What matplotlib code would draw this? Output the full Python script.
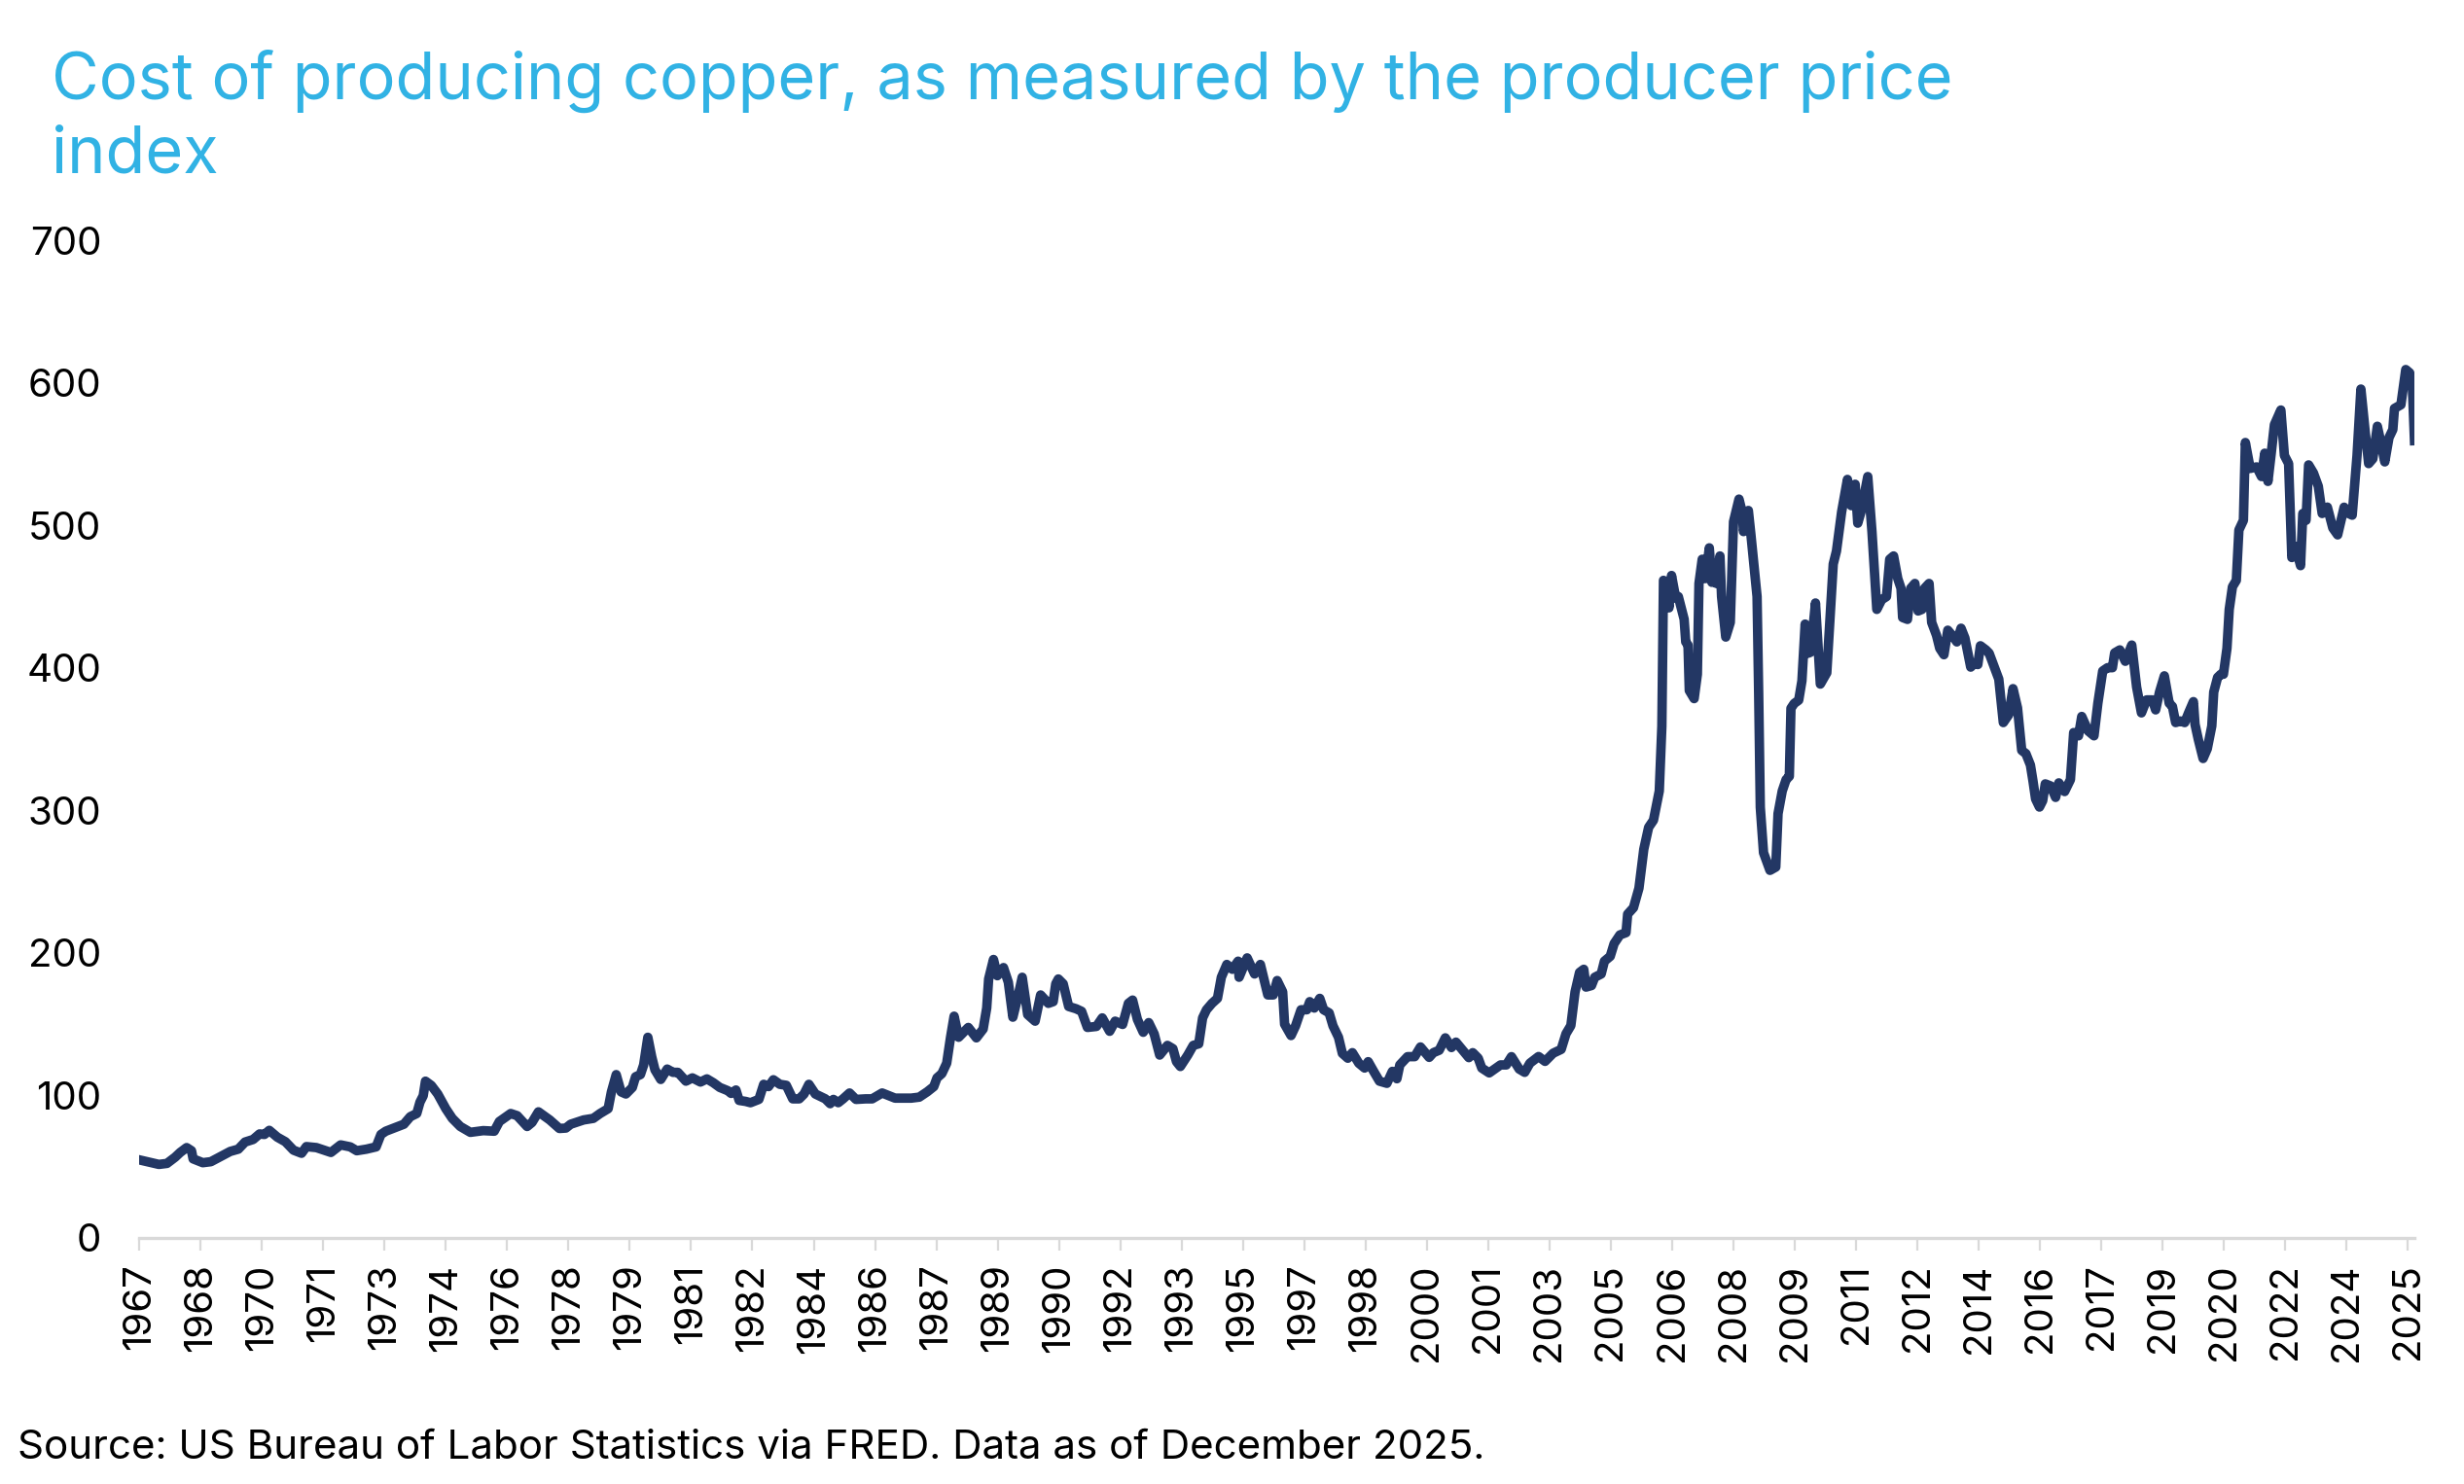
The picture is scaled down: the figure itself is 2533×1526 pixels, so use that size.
import matplotlib
matplotlib.use("Agg")
import matplotlib.pyplot as plt

# months after Jan 1967
months = [
    0, 6.1, 8.6, 11.1, 12.7, 14.7, 16.2, 16.7, 19.7, 22.2, 25.2, 28.2, 30.7, 32.8, 35.3, 37.3, 38.8,
    40.3, 42.8, 45.3, 47.8, 50.3, 51.8, 54.9, 59.4, 62.4, 65.4, 67.4, 70.4, 73.4, 74.9, 76.4, 79.5,
    82.0, 84.0, 86.0, 87.0, 88.0, 88.7, 90.5, 92.5, 95.0, 97.0, 99.5, 102.6, 106.6, 110.0, 111.6,
    115.1, 117.1, 120.2, 121.7, 123.7, 127.2, 130.2, 132.2, 133.7, 137.7, 140.7, 142.8,
    145.3, 146.3, 147.8, 149.3, 150.8, 152.8, 153.8, 155.3, 156.3, 157.6, 158.8, 159.8, 161.6,
    163.6, 165.4, 166.9, 169.4, 171.4, 173.9, 175.9, 177.9, 179.9, 182.4, 183.4, 184.9, 185.9,
    187.9, 189.4, 192.0, 193.5, 195.0, 196.5, 198.5, 200.5, 202.5, 204.5, 206.0, 207.5, 209.5,
    212.6, 214.1, 215.1, 216.6, 218.1, 220.1, 222.1, 225.1, 227.1, 230.2, 234.2, 239.2, 241.7,
    244.2, 246.2, 247.2, 248.7, 250.2, 251.4, 252.5,
    253.9, 256.9, 259.4, 261.5, 262.6, 263.2, 264.7, 265.9, 267.8, 269.3, 270.7, 272.4, 273.6,
    275.3, 277.6, 279.3, 281.7, 283.2, 284.0, 284.8, 286.3, 288.0, 290.3, 292.0, 293.8, 296.6,
    298.4, 300.7, 302.4, 304.7, 306.5, 307.8, 309.3, 311.1, 312.8, 314.5, 316.2, 318.6, 320.3,
    321.4, 322.6, 324.9, 326.6, 328.3, 329.5, 330.7, 332.4, 334.1, 335.3, 337.0, 338.7, 340.5,
    340.8, 343.3, 345.6, 347.4, 349.7, 351.4, 352.6, 354.3, 354.9, 356.9, 358.3, 360.0, 361.8,
    362.7, 364.1, 365.8, 367.0, 368.7, 369.9, 371.6, 372.8, 374.5, 375.9, 377.9, 379.7, 380.8,
    382.5, 384.3, 386.6, 388.3, 389.7, 390.6, 393.0, 395.2, 397.0, 399.7, 401.0, 402.8, 404.7,
    406.6, 408.0, 412.0, 413.2, 414.9, 416.0, 418.3, 421.8, 423.6, 425.2, 427.6, 429.3, 430.9,
    433.6, 435.6, 438.1, 440.6, 442.1, 443.6, 444.9, 446.3, 447.6, 448.3, 450.0, 451.0, 453.0,
    454.0, 455.8, 457.0, 458.8, 460.7, 461.2, 463.0, 464.7, 466.2, 467.7,
    469.2, 471.0, 471.8, 472.3, 472.8, 474.0, 474.8, 476.1, 476.9, 478.7, 479.2, 479.9, 480.3,
    481.8, 482.8, 483.3, 484.3, 485.3, 486.5, 487.3, 488.3, 488.7, 489.8, 490.3, 491.6, 493.0,
    494.0, 495.7, 496.7, 497.1, 498.6, 499.4, 501.3, 501.8, 502.3, 503.3, 505.3, 507.1, 507.8,
    509.1, 510.3, 511.3, 511.8, 512.8, 514.2, 515.2, 516.2, 517.2, 517.9, 519.4, 520.9, 522.9,
    523.9, 524.9, 525.9, 527.5, 529.3, 530.5, 531.7, 532.5, 533.5, 535.6, 536.9, 538.4, 539.9,
    541.4, 542.4, 543.6, 544.9, 545.9, 546.4, 547.9, 548.9, 550.2, 551.2, 552.4, 553.2, 554.6,
    555.4, 556.9, 557.9, 559.2, 560.4,
    562.2, 563.2, 564.5, 565.7, 567.5, 568.7, 569.7, 570.5, 572.2, 573.2, 574.7, 576.2, 577.6,
    579.3, 580.6, 582.0, 583.3, 584.6, 586.0, 586.8, 587.6, 588.8, 589.8, 590.6, 592.3, 593.8,
    594.8, 596.6, 598.4, 599.4, 600.9, 601.9, 603.9, 605.7, 606.9, 608.4, 609.9, 611.4, 612.1,
    613.7, 615.4, 617.4, 618.9, 620.4, 622.0, 623.8, 624.8, 626.0, 627.5, 629.0, 630.0, 631.0,
    632.5, 633.8, 635.0, 636.5, 637.0, 638.0, 639.5, 640.8, 642.2, 642.8, 644.0, 645.0, 645.8,
    646.9, 647.6, 648.6, 649.8, 650.6, 652.0, 652.6, 654.1, 656.1, 657.6, 658.6, 659.6, 660.6,
    661.6, 663.6, 664.7, 666.0, 667.0, 668.1, 669.7, 670.4, 671.4, 672.2, 673.7, 675.2, 676.4,
    678.0, 679.7, 681.2, 683.2, 684.7, 685.7, 687.2, 688.4, 689.7, 690.8, 692.1, 693.5, 694.8,
    695.8, 697.1, 698.3, 698.8, 700.8, 702.3, 703.5, 704.3, 705.0,
]

ppi = [
    54.8, 51.6, 52.3, 56.6, 60.0, 63.4, 61.2, 55.5, 52.8, 53.5, 57.1, 60.7, 62.3, 67.3, 69.1, 73.0, 72.6,
    75.5, 70.7, 67.5, 61.6, 59.4, 64.1, 63.4, 60.0, 65.3, 63.9, 61.2, 62.3, 63.9, 72.6, 74.9, 77.6,
    79.8, 85.1, 87.3, 95.3, 99.8, 110.0, 107.0, 101.0, 90.7, 83.9, 78.2, 74.1, 75.3, 74.9, 81.7,
    87.3, 85.8, 78.2, 81.0, 88.5, 82.8, 76.8, 77.1, 79.8, 82.8, 83.9, 87.3,
    90.7, 102.4, 114.6, 102.5, 101.0, 105.6, 113.1, 114.6, 121.4, 140.8, 127.1, 118.0, 111.2,
    118.5, 116.2, 116.2, 110.0, 112.3, 109.4, 111.6, 108.9, 105.6, 103.3, 101.4, 103.8, 96.5,
    95.8, 94.9, 97.2, 107.8, 106.2, 111.0, 107.8, 107.1, 97.6, 97.6, 101.0, 107.8, 101.0,
    97.6, 94.2, 97.2, 94.9, 97.6, 101.7, 97.2, 97.6, 97.6, 101.7, 98.1, 98.1, 98.8,
    102.6, 106.2, 112.3, 115.3, 122.6, 140.8, 155.6,
    140.8, 147.7, 140.4, 146.6, 161.3, 181.7, 195.4, 184.0, 189.7, 179.4, 154.9, 170.5, 182.9,
    156.7, 152.1, 170.5, 164.6, 165.8, 178.3, 181.7, 178.3, 162.4, 160.8, 159.0, 147.7, 148.4,
    154.4, 145.0, 152.1, 149.8, 164.6, 166.9, 153.3, 144.3, 151.1, 143.1, 128.3, 135.1, 132.8,
    123.7, 120.3, 128.3, 135.1, 136.2, 154.4, 160.1, 164.6, 168.1, 182.9, 191.9, 188.5, 194.2,
    182.9, 196.5, 185.2, 191.9, 170.5, 170.5, 180.6, 172.7, 150.0, 142.0, 148.8, 160.1, 160.1,
    165.8, 161.3, 168.1, 160.1, 157.9, 148.8, 140.8, 129.5, 126.1, 130.0, 122.6, 119.2, 123.7,
    116.9, 110.0, 108.5, 116.9, 111.7, 121.4, 127.2, 127.2, 134.0, 126.7, 130.0, 131.7, 140.4,
    133.6, 137.4, 126.5, 130.0, 126.1, 119.2, 115.8, 121.4, 121.4, 127.2, 118.5, 116.2, 122.6,
    127.3, 123.9, 129.6, 132.3, 143.3, 149.0, 172.6, 186.3, 188.5, 176.0, 177.1, 182.9, 185.2,
    194.2, 197.6, 206.5, 212.6, 214.2, 227.2, 231.7, 245.4, 272.7, 288.1,
    293.1, 313.6, 359.0, 461.4, 460.0, 442.1, 464.8, 448.9, 450.0, 434.1, 418.2, 416.0, 384.1,
    378.4, 395.5, 459.2, 476.2, 462.6, 484.2, 460.0, 472.8, 459.2, 478.5, 450.0, 421.6, 431.9,
    502.5, 518.4, 509.2, 495.6, 510.4, 493.3, 450.0, 381.8, 302.2, 270.3, 257.9, 260.2, 297.7,
    313.6, 321.6, 323.9, 371.6, 375.0, 377.3, 390.9, 430.7, 410.3, 411.0, 445.5, 388.6, 396.5,
    434.1, 472.8, 481.9, 509.4, 532.2, 513.8, 528.8, 501.5, 509.4, 534.2, 495.6, 441.0, 447.8,
    450.0, 476.2, 478.5, 462.6, 455.8, 435.3, 434.0, 455.8, 459.2, 439.9, 441.0, 455.8, 459.2,
    431.9, 422.8, 413.7, 409.2, 426.4,
    421.6, 418.2, 427.8, 420.9, 400.5, 403.4, 402.3, 415.5, 412.6, 410.3, 401.2, 392.1, 361.6,
    367.2, 385.4, 371.9, 342.1, 339.8, 331.8, 320.5, 308.0, 302.3, 306.8, 318.6, 317.1, 309.1,
    319.3, 313.2, 321.6, 354.6, 352.3, 365.9, 355.7, 352.3, 375.2, 397.8, 400.1, 400.1, 410.5,
    412.6, 404.6, 416.0, 386.6, 368.4, 377.5, 377.5, 370.5, 383.0, 394.4, 375.2, 372.9, 361.6,
    362.7, 361.6, 368.4, 376.3, 360.4, 350.0, 336.4, 343.2, 359.2, 383.0, 393.3, 395.5, 395.5,
    413.7, 441.0, 456.9, 461.4, 496.7, 503.5, 558.1, 539.9, 541.0, 534.2, 550.6, 530.8, 550.2,
    570.6, 580.9, 549.0, 543.3, 477.4, 485.3, 471.7, 508.3, 503.5, 542.4, 536.7, 527.4, 508.3,
    512.8, 498.1, 493.3, 512.7, 508.2, 507.1, 549.0, 595.6, 566.3, 543.3, 546.7, 569.5, 555.9,
    544.5, 561.5, 567.2, 582.0, 584.6, 609.3, 607.0, 600.2, 559.4,
]

# category labels every 19 months from Jan 1967
tick_step = 19
last_month = 705
yticks = [0, 100, 200, 300, 400, 500, 600, 700]

title = "Cost of producing copper, as measured by the producer price\nindex"
source = "Source: US Bureau of Labor Statistics via FRED. Data as of December 2025."

plt.rcParams['font.family'] = ['Inter', 'DejaVu Sans']

fig = plt.figure(figsize=(25.33, 15.26), dpi=100)
ax = fig.add_axes([0.0565, 0.1658, 0.9234, 0.6723])

ax.plot(months, ppi, color='#233764', linewidth=7, solid_joinstyle='round')

ax.set_xlim(0, last_month)
ax.set_ylim(0, 700)

xt = list(range(0, last_month, tick_step))
ax.set_xticks(xt)
ax.set_xticklabels([str(1967 + m // 12) for m in xt], rotation=90, fontsize=29)
ax.set_yticks(yticks)
ax.set_yticklabels([str(v) for v in yticks], fontsize=29)

for s in ['top', 'right', 'left']:
    ax.spines[s].set_visible(False)
ax.spines['bottom'].set_color('#d9d9d9')
ax.spines['bottom'].set_linewidth(2.4)
ax.tick_params(axis='x', length=9, width=1.6, color='#d9d9d9', pad=10)
ax.tick_params(axis='y', length=0, pad=28)

fig.text(0.021, 0.967, title, fontsize=48, color='#31b2e4', va='top', ha='left',
         linespacing=1.27)
fig.text(0.007, 0.024, source, fontsize=30.3, color='black', va='center', ha='left')

fig.savefig('out.png', dpi=100)
